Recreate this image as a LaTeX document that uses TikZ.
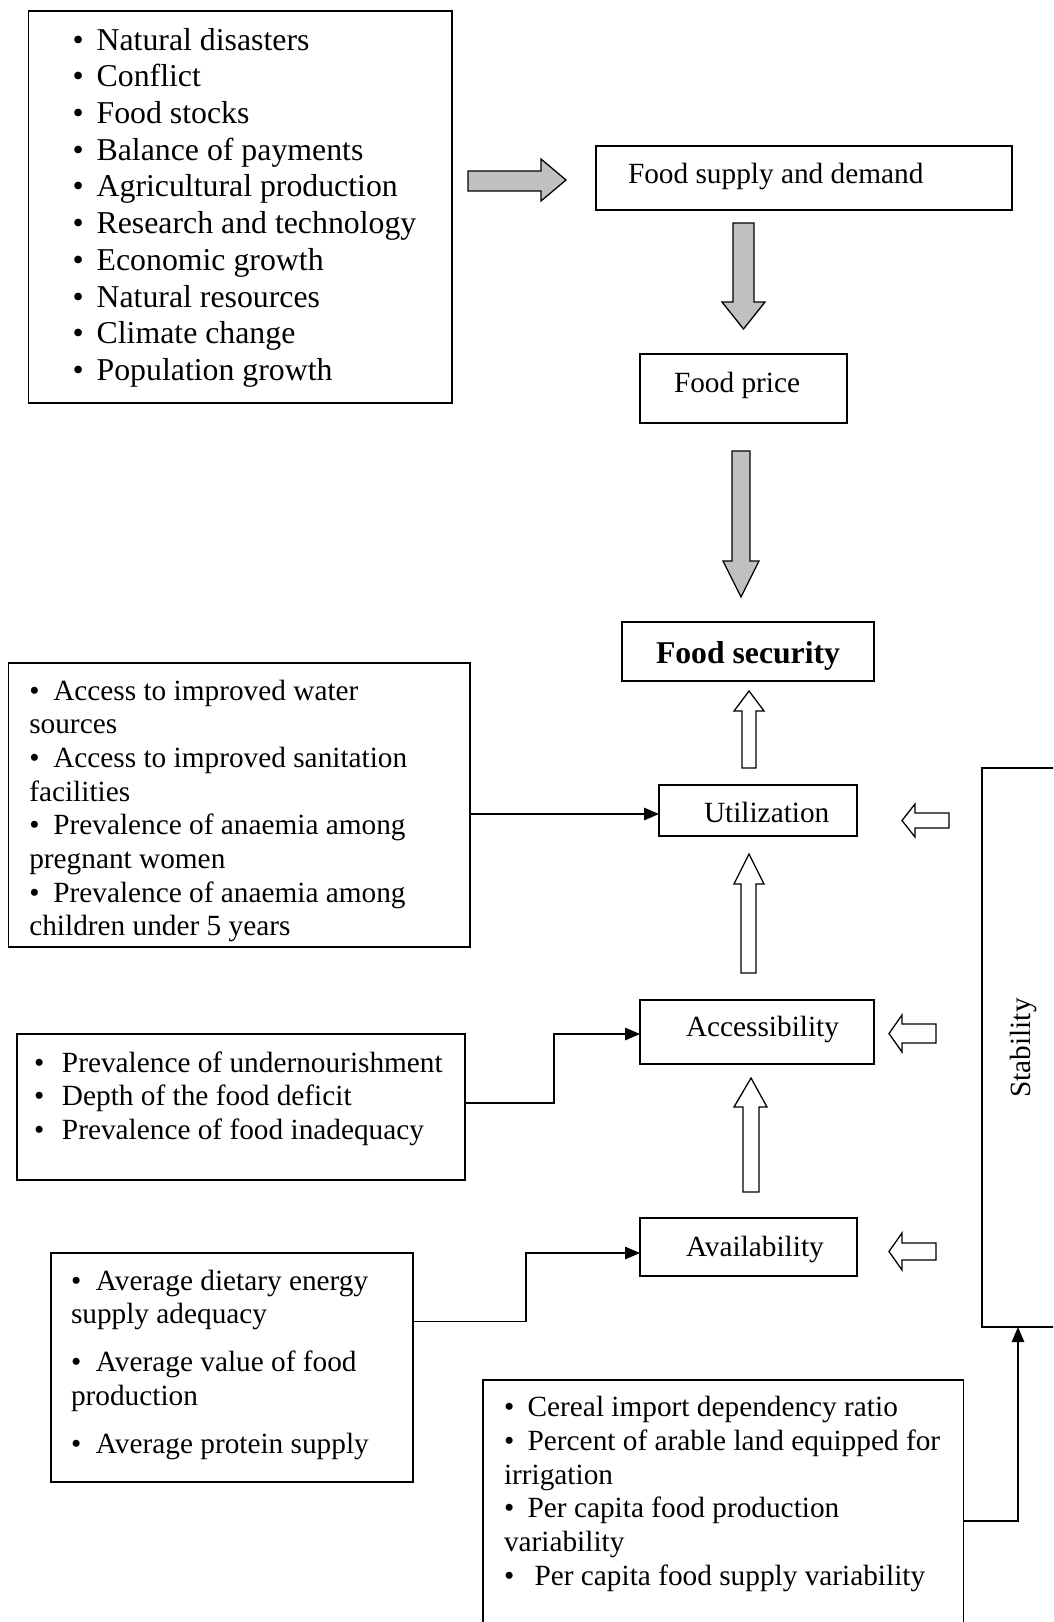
\documentclass[tikz,border=0pt]{standalone}
\usepackage{fontspec}
\setmainfont{Liberation Serif}
\usetikzlibrary{arrows.meta}
\definecolor{arrowgray}{HTML}{C0C0C0}
\newcommand\bul[1]{\makebox[#1][l]{•}}
\begin{document}
\begin{tikzpicture}[x=1pt,y=-1pt,
  box/.style={draw, line width=1.4pt, inner sep=0pt, outer sep=0pt},
  txt/.style={inner sep=0pt, outer sep=0pt, font=\fontsize{29.3pt}{33.7pt}\selectfont},
  listtxt/.style={txt, anchor=north west, align=left},
  garrow/.style={draw, line width=1.3pt, fill=arrowgray, line join=miter},
  warrow/.style={draw, line width=1.3pt, fill=white, line join=miter},
  conn/.style={line width=1.3pt, -{Triangle[length=15pt,width=12.5pt]}}]
\useasboundingbox (0,0) rectangle (1053,1622);
\clip (0,0) rectangle (1053,1622);
\fill[white] (0,0) rectangle (1053,1622);

% boxes
\node[box, minimum width=423.7pt, minimum height=392pt] (factors) at (240.15,207) {};
\node[box, minimum width=416pt, minimum height=64pt] (fsd) at (804,178) {};
\node[box, minimum width=207pt, minimum height=69pt] (price) at (743.5,388.5) {};
\node[box, minimum width=252pt, minimum height=59pt] (fs) at (748,651.5) {};
\node[box, minimum width=198pt, minimum height=51pt] (util) at (758,810.5) {};
\node[box, minimum width=234pt, minimum height=64pt] (acc) at (757,1032) {};
\node[box, minimum width=217pt, minimum height=58pt] (avail) at (748.5,1247) {};
\node[box, minimum width=98pt, minimum height=559pt] (stab) at (1031,1047.5) {};
\node[box, minimum width=461.7pt, minimum height=284pt] (utilbox) at (239.15,805) {};
\node[box, minimum width=448.2pt, minimum height=146pt] (accbox) at (240.9,1107) {};
\node[box, minimum width=362pt, minimum height=229pt] (availbox) at (232,1367.5) {};
\node[box, minimum width=480.5pt, minimum height=270pt] (stabbox) at (723.25,1515) {};

% single-line texts
\node[txt, anchor=base west] (fsd-t) at (628,183) {Food supply and demand};
\node[txt, anchor=base west] (price-t) at (674,392) {Food price};
\node[txt, anchor=base, font=\fontsize{31.7pt}{36pt}\selectfont\bfseries] (fs-t) at (748,663) {Food security};
\node[txt, anchor=base west] (util-t) at (704,822.5) {Utilization};
\node[txt, anchor=base west] (acc-t) at (686,1036) {Accessibility};
\node[txt, anchor=base west] (avail-t) at (686,1256) {Availability};
\node[txt, anchor=base, rotate=90] (stab-t) at (1030,1048) {Stability};

% list texts
\node[listtxt, font=\fontsize{31.8pt}{36.74pt}\selectfont] (factors-t) at (72.5,22)
 {\rule{0pt}{28pt}\bul{24.2pt}Natural disasters\\
  \bul{24.2pt}Conflict\\
  \bul{24.2pt}Food stocks\\
  \bul{24.2pt}Balance of payments\\
  \bul{24.2pt}Agricultural production\\
  \bul{24.2pt}Research and technology\\
  \bul{24.2pt}Economic growth\\
  \bul{24.2pt}Natural resources\\
  \bul{24.2pt}Climate change\\
  \bul{24.2pt}Population growth};

\node[listtxt] (utilbox-t) at (29.3,675)
 {\rule{0pt}{25pt}\bul{24pt}Access to improved water\\
  sources\\
  \bul{24pt}Access to improved sanitation\\
  facilities\\
  \bul{24pt}Prevalence of anaemia among\\
  pregnant women\\
  \bul{24pt}Prevalence of anaemia among\\
  children under 5 years};

\node[listtxt] (accbox-t) at (34,1047)
 {\rule{0pt}{25pt}\bul{28pt}Prevalence of undernourishment\\
  \bul{28pt}Depth of the food deficit\\
  \bul{28pt}Prevalence of food inadequacy};

\node[listtxt] (availbox-t) at (71,1265)
 {\rule{0pt}{25pt}\bul{25pt}Average dietary energy\\
  supply adequacy\\[14.5pt]
  \bul{25pt}Average value of food\\
  production\\[14.5pt]
  \bul{25pt}Average protein supply};

\node[listtxt] (stabbox-t) at (504,1391.7)
 {\rule{0pt}{25pt}\bul{23.7pt}Cereal import dependency ratio\\
  \bul{23.7pt}Percent of arable land equipped for\\
  irrigation\\
  \bul{23.7pt}Per capita food production\\
  variability\\
  \bul{30.6pt}Per capita food supply variability};

% gray block arrows
\draw[garrow] (468,171) -- (541,171) -- (541,159) -- (566,180) -- (541,201) -- (541,191) -- (468,191) -- cycle;
\draw[garrow] (733,223) -- (754,223) -- (754,302) -- (765,302) -- (743.5,329) -- (722,302) -- (733,302) -- cycle;
\draw[garrow] (732,451) -- (750,451) -- (750,561) -- (759,561) -- (741,597) -- (723,561) -- (732,561) -- cycle;

% white up arrows
\draw[warrow] (742,768) -- (742,711) -- (734,711) -- (749,691) -- (764,711) -- (756,711) -- (756,768) -- cycle;
\draw[warrow] (741,973) -- (741,884) -- (734,884) -- (749,854) -- (764,884) -- (756,884) -- (756,973) -- cycle;
\draw[warrow] (743,1192) -- (743,1107) -- (734,1107) -- (751,1078) -- (767,1107) -- (759,1107) -- (759,1192) -- cycle;

% white left arrows
\draw[warrow] (949,813) -- (915,813) -- (915,804) -- (902,820.5) -- (915,837) -- (915,828) -- (949,828) -- cycle;
\draw[warrow] (936,1024) -- (902,1024) -- (902,1015) -- (889,1033.5) -- (902,1052) -- (902,1043) -- (936,1043) -- cycle;
\draw[warrow] (936,1243) -- (902,1243) -- (902,1233) -- (889,1251.5) -- (902,1270) -- (902,1260) -- (936,1260) -- cycle;

% connectors
\draw[conn] (utilbox.east |- 0,814) -- (util.west |- 0,814);
\draw[conn] (accbox.east |- 0,1103) -- (554,1103) -- (554,1034) -- (acc.west |- 0,1034);
\draw[conn] (availbox.east |- 0,1321.7) -- (526,1321.7) -- (526,1253) -- (avail.west |- 0,1253);
\draw[conn] (stabbox.east |- 0,1521) -- (1018,1521) -- (stab.south -| 1018,0);
\end{tikzpicture}
\end{document}
